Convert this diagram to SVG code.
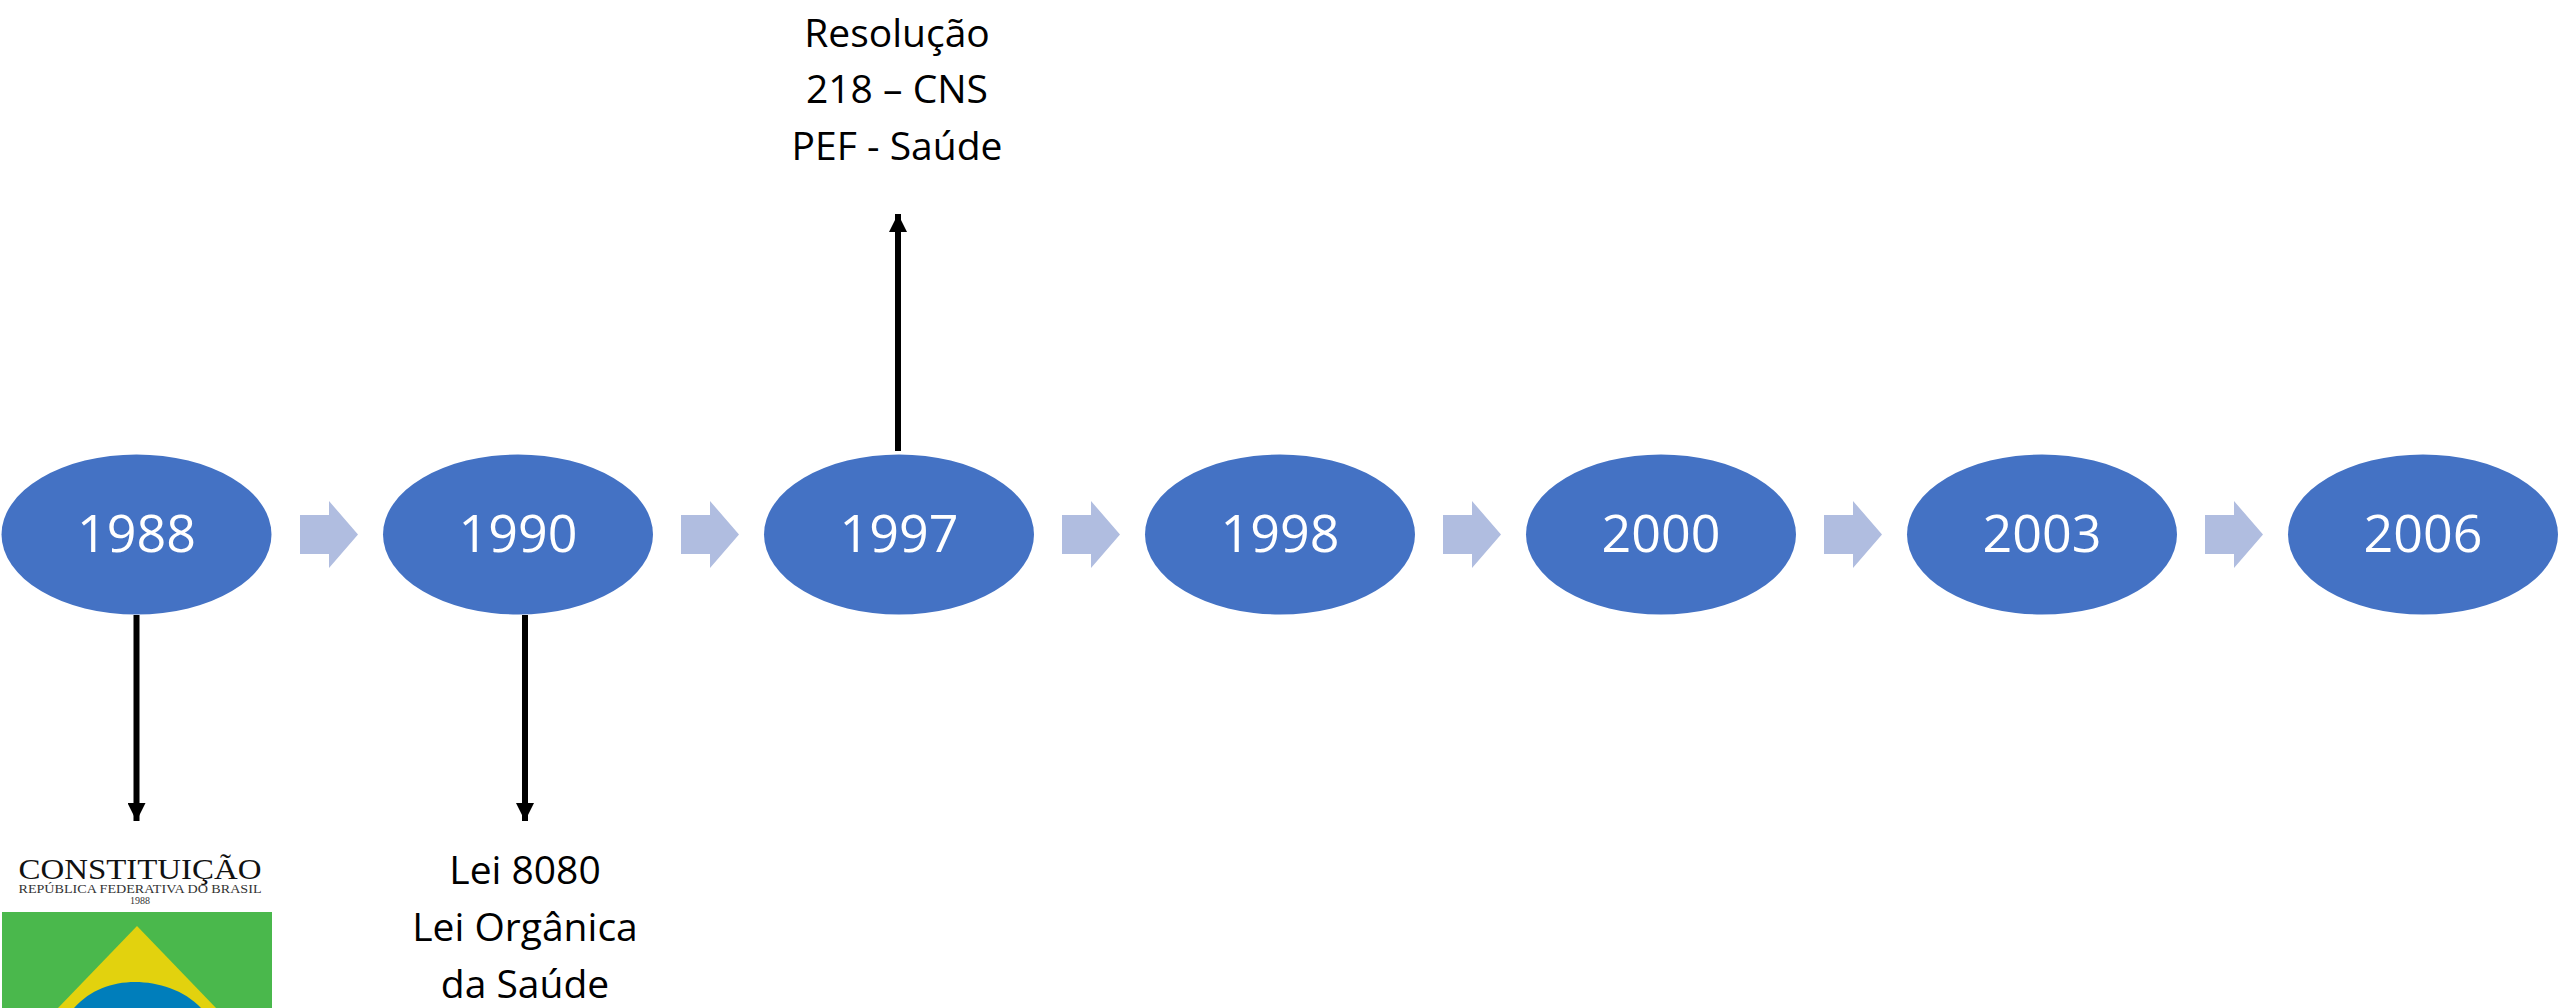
<svg xmlns="http://www.w3.org/2000/svg" width="2560" height="1008" viewBox="0 0 2560 1008">
<style>
.n{fill:#4472c4}
.y{font:52px "Open Sans","Noto Sans",sans-serif;fill:#fff;text-anchor:middle}
.t{font:39px "Open Sans","Noto Sans",sans-serif;fill:#000;text-anchor:middle}
.b{fill:#b0bde0}
.c{stroke:#000;stroke-width:6;fill:none;marker-end:url(#h)}
.s{font-family:"Liberation Serif",serif;text-anchor:middle}
</style>
<defs>
<marker id="h" markerUnits="userSpaceOnUse" markerWidth="18" markerHeight="18" refX="18" refY="9" orient="auto"><path d="M0 0L18 9L0 18Z"/></marker>
<path id="a" d="M0 14H29V0L58 33.500L29 67V53H0Z"/>
</defs>
<rect width="2560" height="1008" fill="#fff"/>
<g id="block-arrows" class="b">
<use href="#a" x="300" y="501"/><use href="#a" x="681" y="501"/><use href="#a" x="1062" y="501"/><use href="#a" x="1443" y="501"/><use href="#a" x="1824" y="501"/><use href="#a" x="2205" y="501"/>
</g>
<g id="connectors">
<path class="c" d="M136.500 615V821"/>
<path class="c" d="M525 615V821"/>
<path class="c" d="M898 451V214"/>
</g>
<g id="n1988"><ellipse class="n" cx="136.500" cy="534.500" rx="135" ry="80"/><text class="y" x="136.500" y="552">1988</text></g>
<g id="n1990"><ellipse class="n" cx="518" cy="534.500" rx="135" ry="80"/><text class="y" x="518" y="552">1990</text></g>
<g id="n1997"><ellipse class="n" cx="899" cy="534.500" rx="135" ry="80"/><text class="y" x="899" y="552">1997</text></g>
<g id="n1998"><ellipse class="n" cx="1280" cy="534.500" rx="135" ry="80"/><text class="y" x="1280" y="552">1998</text></g>
<g id="n2000"><ellipse class="n" cx="1661" cy="534.500" rx="135" ry="80"/><text class="y" x="1661" y="552">2000</text></g>
<g id="n2003"><ellipse class="n" cx="2042" cy="534.500" rx="135" ry="80"/><text class="y" x="2042" y="552">2003</text></g>
<g id="n2006"><ellipse class="n" cx="2423" cy="534.500" rx="135" ry="80"/><text class="y" x="2423" y="552">2006</text></g>
<g id="resolucao"><text class="t" x="897" y="47">Resolução</text><text class="t" x="897" y="103">218 – CNS</text><text class="t" x="897" y="160">PEF - Saúde</text></g>
<g id="lei"><text class="t" x="525" y="884">Lei 8080</text><text class="t" x="525" y="941">Lei Orgânica</text><text class="t" x="525" y="998">da Saúde</text></g>
<g id="constituicao">
<rect x="2" y="912" width="270" height="96" fill="#4ab84c"/>
<path d="M137 926L216 1008H58Z" fill="#e2d20e"/>
<path d="M74 1008C90 990 112 982 135 982C158 982 184 990 201 1008Z" fill="#007ebb"/>
<text class="s" x="140" y="879" font-size="30" textLength="243" lengthAdjust="spacingAndGlyphs" fill="#111">CONSTITUIÇÃO</text>
<text class="s" x="140" y="893" font-size="13" textLength="243" lengthAdjust="spacingAndGlyphs" fill="#333">REPÚBLICA FEDERATIVA DO BRASIL</text>
<text class="s" x="140" y="904" font-size="10" fill="#333">1988</text>
</g>
</svg>
